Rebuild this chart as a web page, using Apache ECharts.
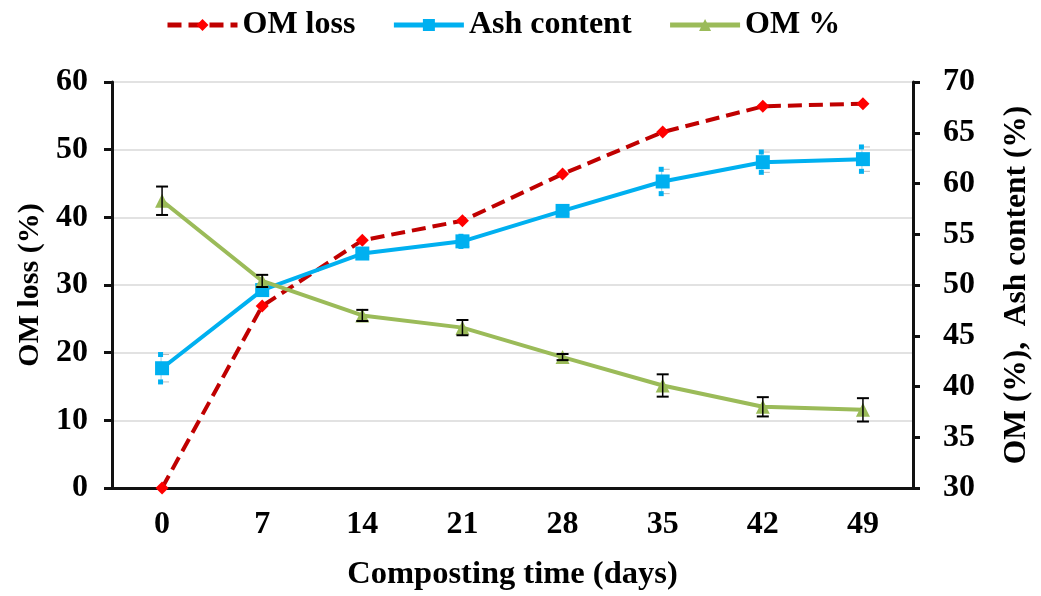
<!DOCTYPE html>
<html><head><meta charset="utf-8">
<script src="https://cdn.jsdelivr.net/npm/echarts@6/dist/echarts.min.js"></script>
<style>html,body{margin:0;padding:0;background:#fff}#c{width:1041px;height:596px}</style>
</head><body><div id="c"></div>
<script>
const days = ['0','7','14','21','28','35','42','49'];
const omLoss = [0, 26.9, 36.6, 39.5, 46.4, 52.6, 56.4, 56.8];
const ash = [41.8, 49.5, 53.1, 54.3, 57.3, 60.2, 62.1, 62.4];
const ashErr = [1.35, 0.4, 0.3, 0.5, 0.3, 1.2, 1.0, 1.2];
const omPct = [58.3, 50.4, 47.0, 45.8, 42.9, 40.1, 38.0, 37.7];
const omPctErr = [1.4, 0.6, 0.55, 0.75, 0.3, 1.1, 0.95, 1.15];
const leftTicks = {min: 0, max: 60, interval: 10};
const rightTicks = {min: 30, max: 70, interval: 5};

const FONT = 'Liberation Serif';
const chart = echarts.init(document.getElementById('c'));

function errBars(vals, errs, kind) {
  return {
    type: 'custom', yAxisIndex: 1, silent: true, z: kind === 'black' ? 5 : 3,
    data: vals.map((v, i) => [i, v - errs[i], v + errs[i]]),
    encode: {x: 0, y: [1, 2]},
    renderItem: function (params, api) {
      const lo = api.coord([api.value(0), api.value(1)]);
      const hi = api.coord([api.value(0), api.value(2)]);
      const x = lo[0];
      if (kind === 'black') {
        const w = 6;
        return {type: 'group', children: [
          {type: 'line', shape: {x1: x, y1: lo[1], x2: x, y2: hi[1]}, style: {stroke: '#000', lineWidth: 1.5}},
          {type: 'line', shape: {x1: x - w, y1: lo[1], x2: x + w, y2: lo[1]}, style: {stroke: '#000', lineWidth: 2}},
          {type: 'line', shape: {x1: x - w, y1: hi[1], x2: x + w, y2: hi[1]}, style: {stroke: '#000', lineWidth: 2}}
        ]};
      }
      const s = 5;
      return {type: 'group', children: [
        {type: 'line', shape: {x1: x - 1, y1: lo[1], x2: x - 1, y2: hi[1]}, style: {stroke: '#9ccfe6', lineWidth: 1}},
        {type: 'line', shape: {x1: x, y1: lo[1], x2: x + 7, y2: lo[1]}, style: {stroke: '#bbbbbb', lineWidth: 1}},
        {type: 'line', shape: {x1: x, y1: hi[1], x2: x + 7, y2: hi[1]}, style: {stroke: '#bbbbbb', lineWidth: 1}},
        {type: 'rect', shape: {x: x - 4, y: lo[1] - s / 2, width: s, height: s}, style: {fill: '#00B0F0'}},
        {type: 'rect', shape: {x: x - 4, y: hi[1] - s / 2, width: s, height: s}, style: {fill: '#00B0F0'}}
      ]};
    }
  };
}

const labelStyle = {fontFamily: FONT, fontWeight: 'bold', fontSize: 32, color: '#000'};

chart.setOption({
  animation: false,
  backgroundColor: '#fff',
  legend: {
    top: 4, left: 160,
    itemWidth: 70, itemHeight: 15, itemGap: 36,
    textStyle: {fontFamily: FONT, fontWeight: 'bold', fontSize: 32, color: '#000'},
    data: [
      {name: 'OM loss', lineStyle: {width: 5}},
      {name: 'Ash content', lineStyle: {width: 5}},
      {name: 'OM %', lineStyle: {width: 5}}
    ]
  },
  grid: {left: 112, right: 123, top: 82, bottom: 102},
  xAxis: {
    type: 'category', data: days, boundaryGap: true,
    name: 'Composting time (days)', nameLocation: 'middle', nameGap: 70,
    nameTextStyle: {fontFamily: FONT, fontWeight: 'bold', fontSize: 32.5, color: '#000'},
    axisLine: {lineStyle: {color: '#111', width: 3}},
    axisTick: {alignWithLabel: true, length: 8, lineStyle: {color: '#111', width: 3}},
    axisLabel: Object.assign({margin: 21}, labelStyle),
    splitLine: {show: false}
  },
  yAxis: [{
    type: 'value', min: leftTicks.min, max: leftTicks.max, interval: leftTicks.interval,
    name: 'OM loss (%)', nameLocation: 'middle', nameGap: 67, nameRotate: 90,
    nameTextStyle: {fontFamily: FONT, fontWeight: 'bold', fontSize: 30, color: '#000'},
    axisLine: {show: true, lineStyle: {color: '#111', width: 3}},
    axisTick: {show: true, length: 8, lineStyle: {color: '#111', width: 3}},
    axisLabel: Object.assign({margin: 24}, labelStyle),
    splitLine: {show: true, lineStyle: {color: '#d9d9d9', width: 1.5}}
  }, {
    type: 'value', min: rightTicks.min, max: rightTicks.max, interval: rightTicks.interval,
    position: 'right',
    name: 'OM (%),  Ash content (%)', nameLocation: 'middle', nameGap: 88, nameRotate: 90,
    nameTextStyle: {fontFamily: FONT, fontWeight: 'bold', fontSize: 31.5, color: '#000'},
    axisLine: {show: true, lineStyle: {color: '#111', width: 3}},
    axisTick: {show: true, length: 7, lineStyle: {color: '#111', width: 3}},
    axisLabel: Object.assign({margin: 30}, labelStyle),
    splitLine: {show: false}
  }],
  series: [{
    name: 'OM loss', type: 'line', yAxisIndex: 0, data: omLoss, z: 2,
    symbol: 'diamond', symbolSize: 13,
    itemStyle: {color: '#FF0000'},
    lineStyle: {color: '#C00000', width: 4, type: [14, 7]}
  }, {
    name: 'Ash content', type: 'line', yAxisIndex: 1, data: ash, z: 3,
    symbol: 'rect', symbolSize: 14,
    itemStyle: {color: '#00B0F0'},
    lineStyle: {color: '#00B0F0', width: 4}
  }, {
    name: 'OM %', type: 'line', yAxisIndex: 1, data: omPct, z: 4,
    symbol: 'triangle', symbolSize: 14,
    itemStyle: {color: '#9BBB59'},
    lineStyle: {color: '#9BBB59', width: 4}
  },
  errBars(ash, ashErr, 'blue'),
  errBars(omPct, omPctErr, 'black')
  ]
});
</script></body></html>
